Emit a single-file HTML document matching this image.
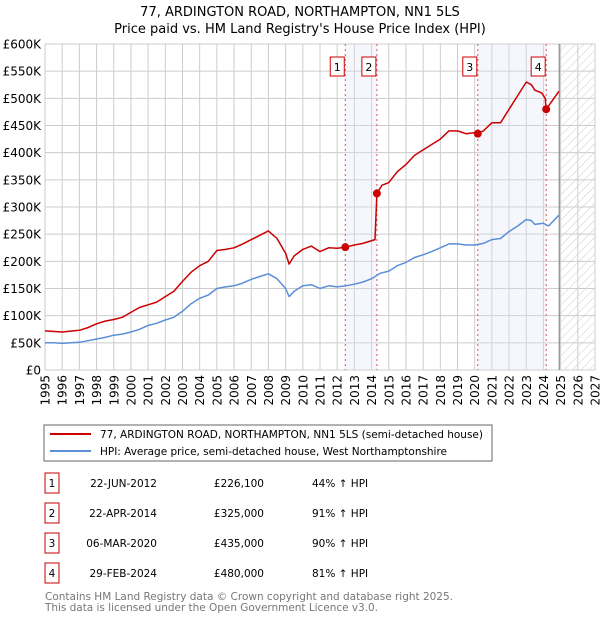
<!DOCTYPE html>
<html><head><meta charset="utf-8"><style>
body{margin:0;background:#fff;font-family:"DejaVu Sans","Liberation Sans",sans-serif;}
svg text{font-family:"DejaVu Sans","Liberation Sans",sans-serif;}
</style></head><body>
<svg id="chart" width="600" height="620" viewBox="0 0 600 620" xmlns="http://www.w3.org/2000/svg">
<defs><pattern id="hatch" width="6" height="6" patternUnits="userSpaceOnUse" patternTransform="rotate(45)"><line x1="0" y1="0" x2="0" y2="6" stroke="#ccc" stroke-width="1"/></pattern></defs>
<text x="300" y="16" text-anchor="middle" font-size="13" fill="#000">77, ARDINGTON ROAD, NORTHAMPTON, NN1 5LS</text>
<text x="300" y="33" text-anchor="middle" font-size="13" fill="#000">Price paid vs. HM Land Registry's House Price Index (HPI)</text>
<g id="grid"></g><g id="bands"></g><g id="series"></g><g id="marks"></g><g id="axes"></g>
<rect x="44" y="425" width="448" height="36" fill="#fff" stroke="#666"/>
<line x1="50" y1="434" x2="91" y2="434" stroke="#cc0000" stroke-width="2"/>
<text x="100" y="438" font-size="10.5" textLength="383">77, ARDINGTON ROAD, NORTHAMPTON, NN1 5LS (semi-detached house)</text>
<line x1="50" y1="451" x2="91" y2="451" stroke="#5b8fd6" stroke-width="2"/>
<text x="100" y="455" font-size="10.5" textLength="347">HPI: Average price, semi-detached house, West Northamptonshire</text>
<g id="table"></g>
<text x="45" y="600" font-size="10.5" fill="#777" textLength="408">Contains HM Land Registry data © Crown copyright and database right 2025.</text>
<text x="45" y="611" font-size="10.5" fill="#777" textLength="333">This data is licensed under the Open Government Licence v3.0.</text>
</svg>
<script>
const hpiYears=[1995,1995.5,1996,1996.5,1997,1997.5,1998,1998.5,1999,1999.5,2000,2000.5,2001,2001.5,2002,2002.5,2003,2003.5,2004,2004.5,2005,2005.5,2006,2006.5,2007,2007.5,2008,2008.5,2009,2009.2,2009.5,2010,2010.5,2011,2011.5,2012,2012.5,2013,2013.5,2014,2014.5,2015,2015.5,2016,2016.5,2017,2017.5,2018,2018.5,2019,2019.5,2020,2020.5,2021,2021.5,2022,2022.5,2023,2023.3,2023.5,2024,2024.3,2024.9];
const hpiValues=[50,50,49,50,51,54,57,60,64,66,70,75,82,86,92,97,108,122,132,138,150,153,155,160,167,172,177,168,150,135,145,155,157,150,155,153,155,158,162,168,178,182,192,198,207,212,218,225,232,232,230,230,233,240,242,255,265,277,275,268,270,265,285];
const propYears=[1995,1996,1997,1997.5,1998,1998.5,1999,1999.5,2000,2000.5,2001,2001.5,2002,2002.5,2003,2003.5,2004,2004.5,2005,2005.5,2006,2006.5,2007,2007.5,2008,2008.5,2009,2009.2,2009.5,2010,2010.5,2011,2011.5,2012,2012.47,2013,2013.5,2014.2,2014.31,2014.6,2015,2015.5,2016,2016.5,2017,2017.5,2018,2018.5,2019,2019.5,2020,2020.18,2020.5,2021,2021.5,2022,2022.5,2023,2023.3,2023.5,2023.9,2024.1,2024.16,2024.5,2024.9];
const propValues=[72,70,73,78,85,90,93,97,106,115,120,125,135,145,163,180,192,200,220,222,225,232,240,248,256,242,215,195,210,222,228,218,225,224,226,230,233,240,325,340,345,365,378,395,405,415,425,440,440,435,437,435,440,455,455,480,505,530,525,515,510,500,480,495,513];
const saleLabels=["1","2","3","4"];
const saleYears=[2012.47,2014.31,2020.18,2024.16];
const salePrices=[226.1,325,435,480];
const saleDates=["22-JUN-2012","22-APR-2014","06-MAR-2020","29-FEB-2024"];
const salePriceText=["£226,100","£325,000","£435,000","£480,000"];
const salePct=["44% ↑ HPI","91% ↑ HPI","90% ↑ HPI","81% ↑ HPI"];
const yTicks=[0,50,100,150,200,250,300,350,400,450,500,550,600];
const yTickLabels=["£0","£50K","£100K","£150K","£200K","£250K","£300K","£350K","£400K","£450K","£500K","£550K","£600K"];
const xTicks=[1995,1996,1997,1998,1999,2000,2001,2002,2003,2004,2005,2006,2007,2008,2009,2010,2011,2012,2013,2014,2015,2016,2017,2018,2019,2020,2021,2022,2023,2024,2025,2026,2027];
const nowYear=2024.92;

const L=45,R=595,T=44,B=370;
const xs=y=>L+(y-1995)/(2027-1995)*(R-L);
const ys=v=>B-v/600*(B-T);
const NS="http://www.w3.org/2000/svg";
function mk(tag,attrs,parent){const e=document.createElementNS(NS,tag);for(const k in attrs)e.setAttribute(k,attrs[k]);parent.appendChild(e);return e;}
const grid=document.getElementById('grid'),bands=document.getElementById('bands'),series=document.getElementById('series'),marks=document.getElementById('marks'),axes=document.getElementById('axes'),table=document.getElementById('table');

yTicks.forEach((v,i)=>{
 const ln=mk('line',{x1:L,x2:R,y1:ys(v),y2:ys(v),stroke:'#ccc','stroke-width':1},grid);
 
 
 const t=mk('text',{x:L-4,y:ys(v)+4.5,'text-anchor':'end','font-size':12},axes);
 t.textContent=yTickLabels[i];
 
 
});
xTicks.forEach(yr=>{
 const ln=mk('line',{x1:xs(yr),x2:xs(yr),y1:T,y2:B,stroke:'#ccc','stroke-width':1},grid);
 
 
 const t=mk('text',{x:0,y:0,'text-anchor':'end','font-size':12,transform:`translate(${xs(yr)+4.5},${B+5}) rotate(-90)`},axes);
 t.textContent=yr;
 
 
});
for(let i=0;i<saleYears.length;i+=2){
 const r=mk('rect',{x:xs(saleYears[i]),y:T,width:xs(saleYears[i+1])-xs(saleYears[i]),height:B-T,fill:'#dde6f8','fill-opacity':0.3},bands);
 
 
}
const hz=mk('rect',{x:xs(nowYear),y:T,width:R-xs(nowYear),height:B-T,fill:'url(#hatch)'},bands);


const nl=mk('line',{x1:xs(nowYear),x2:xs(nowYear),y1:T,y2:B,stroke:'#888','stroke-width':1.2},bands);


const frame=mk('rect',{x:L,y:T,width:R-L,height:B-T,fill:'none',stroke:'#ccc'},grid);



saleYears.forEach((yr,i)=>{
 const ln=mk('line',{x1:xs(yr),x2:xs(yr),y1:T,y2:B,stroke:'#e05050','stroke-width':1,'stroke-dasharray':'2,3'},bands);
 
 
 const bx=mk('rect',{x:xs(yr)-15,y:57,width:14,height:19,fill:'#fff',stroke:'#cc0000'},marks);
 
 
 const t=mk('text',{x:xs(yr)-8,y:71,'text-anchor':'middle','font-size':11},marks);
 t.textContent=saleLabels[i];
 
 
});

function path(xsArr,vs,color,name){
 const d=xsArr.map((yr,i)=>(i?'L':'M')+xs(yr).toFixed(1)+','+ys(vs[i]).toFixed(1)).join('');
 const p=mk('path',{d:d,fill:'none',stroke:color,'stroke-width':1.5,'stroke-linejoin':'round'},series);
 
 
}
path(hpiYears,hpiValues,'#5b8fd6','hpi-line');
path(propYears,propValues,'#cc0000','property-price-line');
saleYears.forEach((yr,i)=>{
 const c=mk('circle',{cx:xs(yr),cy:ys(salePrices[i]),r:4,fill:'#cc0000'},marks);
 
 
});
saleLabels.forEach((lb,i)=>{
 const cy=483+i*30;
 const bx=mk('rect',{x:45,y:cy-10,width:14,height:20,fill:'#fff',stroke:'#cc0000'},table);
 
 
 const cells=[[52,'middle',lb],[157,'end',saleDates[i]],[264,'end',salePriceText[i]],[312,'start',salePct[i]]];
 cells.forEach((c,j)=>{
  const t=mk('text',{x:c[0],y:cy+4,'text-anchor':c[1],'font-size':10.5},table);
  t.textContent=c[2];
  
  
 });
});
</script>
</body></html>
